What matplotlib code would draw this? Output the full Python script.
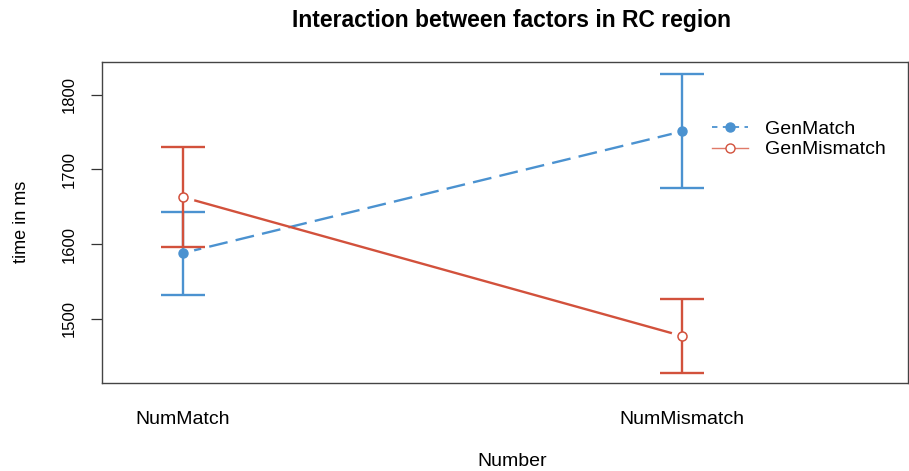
import matplotlib.pyplot as plt
from matplotlib.lines import Line2D

plt.rcParams['font.family'] = ['Liberation Sans', 'DejaVu Sans']

# data
levels = ['NumMatch', 'NumMismatch']
xpos = [1, 2]
gen_match = [1588, 1751]
gen_match_lo = [1532, 1675]
gen_match_hi = [1643, 1828]
gen_mismatch = [1663, 1477]
gen_mismatch_lo = [1596, 1428]
gen_mismatch_hi = [1730, 1527]
yticks = [1500, 1600, 1700, 1800]

blue = '#4b92d0'
red = '#d2513c'

W, H = 909, 471
fig = plt.figure(figsize=(W / 100, H / 100), dpi=100)
ax = fig.add_axes([102 / W, 1 - 383 / H, 806 / W, 321 / H])

# connecting lines (gaps round the points like R type='b')
l1, = ax.plot(xpos, gen_match, color=blue, lw=1.7, zorder=2)
l1.set_dashes((8, 3.5))
ax.plot(xpos, gen_mismatch, color=red, lw=1.7, zorder=2)
ax.plot(xpos, gen_match, 'o', ms=15, color='white', ls='none', zorder=3)
ax.plot(xpos, gen_mismatch, 'o', ms=15, color='white', ls='none', zorder=3)

# error bars
for mean, lo, hi, col, z in [(gen_match, gen_match_lo, gen_match_hi, blue, 4),
                             (gen_mismatch, gen_mismatch_lo, gen_mismatch_hi, red, 5)]:
    err = [[m - l for m, l in zip(mean, lo)], [h - m for m, h in zip(mean, hi)]]
    ax.errorbar(xpos, mean, yerr=err, fmt='none', ecolor=col, elinewidth=1.7,
                capsize=16, capthick=1.7, zorder=z)

ax.plot(xpos, gen_match, 'o', ms=6.5, color=blue, ls='none', zorder=6)
ax.plot(xpos, gen_mismatch, 'o', ms=6.5, mfc='white', mec=red, mew=1.1, ls='none', zorder=6)

ax.set_xlim(0.838, 2.453)
ax.set_ylim(1414, 1844)
ax.set_xticks(xpos)
ax.set_xticklabels(levels, fontsize=14)
ax.tick_params(axis='x', length=0, pad=20.5)
ax.set_yticks(yticks)
ax.set_yticklabels([str(t) for t in yticks], rotation=90, va='center', fontsize=12)
ax.tick_params(axis='y', length=8, width=0.9, pad=10, color='#333333')
for s in ax.spines.values():
    s.set_color('#444444')
    s.set_linewidth(1.0)

fig.text(512 / W, 1 - 20 / H, 'Interaction between factors in RC region',
         ha='center', va='center', fontsize=16.5, fontweight='bold')
fig.text(512 / W, 1 - 462 / H, 'Number', ha='center', va='center', fontsize=14)
fig.text(21 / W, 1 - 222 / H, 'time in ms', ha='center', va='center', rotation=90, fontsize=13)

h1 = Line2D([], [], color=blue, lw=1.3, marker='o', ms=6.5, dashes=(3, 3))
h2 = Line2D([], [], color='#e07a68', lw=1.0, marker='o', ms=6.5, mfc='white', mec=red)
ax.legend([h1, h2], ['GenMatch', 'GenMismatch'], frameon=False, fontsize=14,
          loc='upper left', bbox_to_anchor=(712 / W, 1 - 120 / H),
          bbox_transform=fig.transFigure, borderpad=0, borderaxespad=0,
          handlelength=1.85, handletextpad=0.9, labelspacing=0.16)

fig.savefig('out.png', dpi=100)
